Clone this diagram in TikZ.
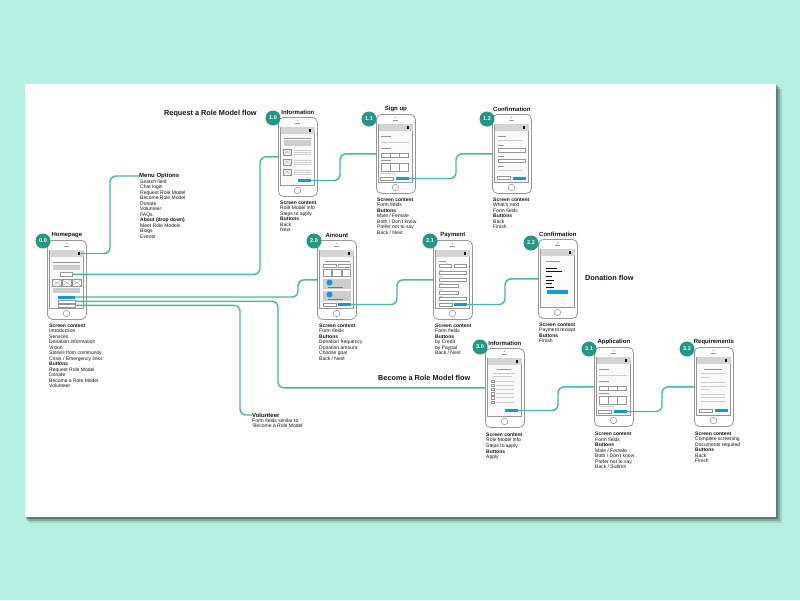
\documentclass[tikz,border=0pt]{standalone}
\usepackage{fontspec}
\setmainfont{Liberation Sans}
\usetikzlibrary{positioning}
\definecolor{mint}{RGB}{180,240,226}
\definecolor{badgeteal}{RGB}{36,150,132}
\definecolor{linkteal}{RGB}{70,185,165}
\definecolor{btnblue}{RGB}{22,152,214}
\definecolor{phonegray}{RGB}{150,150,150}
\definecolor{boxgray}{RGB}{150,150,150}
\definecolor{headgray}{RGB}{212,212,212}
\definecolor{bargray}{RGB}{150,150,150}
\definecolor{palegray}{RGB}{205,205,205}
\definecolor{screenfill}{RGB}{249,249,249}
\definecolor{ink}{RGB}{20,20,20}

\begin{document}
\begin{tikzpicture}[x=1pt,y=-1pt,
  phone/.style={draw=phonegray,line width=0.8pt,fill=white,rounded corners=5pt,
                minimum width=39pt,minimum height=79pt,inner sep=0pt},
  badge/.style={circle,fill=badgeteal,text=white,font=\bfseries\fontsize{5.5}{5.5}\selectfont,
                minimum size=15pt,inner sep=0pt},
  title/.style={font=\bfseries\fontsize{6}{6}\selectfont,text=ink,inner sep=1pt},
  flow/.style={font=\bfseries\fontsize{7.3}{7.3}\selectfont,text=ink,inner sep=0pt,anchor=west},
  notes/.style={font=\fontsize{5}{5.5}\selectfont,text=ink,align=left,inner sep=0pt,anchor=north west},
  link/.style={draw=linkteal,line width=1.4pt,rounded corners=6pt},
  bluebtn/.style={fill=btnblue,minimum width=13pt,minimum height=3pt,inner sep=0pt},
  whitebtn/.style={draw=boxgray,line width=0.4pt,fill=white,minimum width=13pt,minimum height=3pt,inner sep=0pt},
  bar/.style={fill=bargray},
  pale/.style={fill=palegray},
  box/.style={draw=boxgray,line width=0.4pt,fill=white},
  pics/handset/.style={code={
    \draw[boxgray,line width=0.5pt,fill=screenfill] (2.5,10) rectangle (36.5,68);
    \fill[headgray] (2.5,10) rectangle (36.5,17);
    \fill[ink] (31,12.3) rectangle (33.4,14.7);
    \fill[phonegray] (19.5,3.5) circle (0.7);
    \draw[phonegray,line width=0.5pt] (17,6.5) -- (22,6.5);
    \draw[phonegray,line width=0.6pt] (19.5,73.5) circle (3.2);
  }}]
  \useasboundingbox (0,0) rectangle (800,600);
  \fill[mint] (0,0) rectangle (800,600);
  \fill[black,opacity=0.12] (29,89) rectangle (782,523);
  \fill[black,opacity=0.2] (27,87) rectangle (780,521);
  \fill[black,opacity=0.25] (26,85) rectangle (778,519);
  \fill[white] (25,84) rectangle (776,517);

  \node[flow] at (164,114) {Request a Role Model flow};
  \node[flow] at (585,278) {Donation flow};
  \node[flow] at (378,378) {Become a Role Model flow};

  % homepage
  \node[phone,anchor=north west] (home) at (47,240) {};
  \pic at (home.north west) {handset};
  \begin{scope}[shift={(home.north west)}]
    \node[inner sep=0pt,minimum size=2.4pt] (homemenu) at (32.2,13.5) {};
    \fill[bar] (6,21.5) rectangle (33,23);
    \fill[pale] (6,24.5) rectangle (33,30);
    \node[box,minimum width=12pt,minimum height=3.3pt,inner sep=0pt] (homesearch) at (19.5,34.3) {};
    \foreach \x in {5,15,25} {
      \draw[box] (\x,39.5) rectangle +(9.5,6.5);
      \draw[boxgray,line width=0.3pt] (\x,39.5) -- +(9.5,6.5) (\x,46) -- +(9.5,-6.5);
    }
    \fill[pale] (6,48) rectangle (33,53);
    \node[bluebtn,minimum width=17pt] (homedonate) at (19.5,57) {};
    \node[whitebtn,minimum width=17pt] (homebecome) at (19.5,61.3) {};
    \node[whitebtn,minimum width=17pt] (homevolunteer) at (19.5,65.3) {};
  \end{scope}
  \node[badge] at ([shift={(-4,1)}]home.north west) {0.0};
  \node[title,above=1pt of home] {Homepage};
  \node[notes] at ([shift={(2,4)}]home.south west)
    {\textbf{Screen content}\\Introduction\\Services\\Donation information\\Vision\\
     Stories from community\\Crisis / Emergency links\\\textbf{Buttons}\\
     Request Role Model\\Donate\\Become a Role Model\\Volunteer};

  \node[title,anchor=west,inner sep=0pt] (menuhead) at (139,176) {Menu Options};
  \node[notes] (menulist) at (140,179.3)
    {Search field\\Chat login\\Request Role Model\\Become Role Model\\Donate\\Volunteer\\FAQs\\
     \textbf{About (drop down)}\\Meet Role Models\\Blogs\\Events};

  \node[title,anchor=west,inner sep=0pt] (volhead) at (252,415) {Volunteer};
  \node[notes] at (252,418.5) {Form fields similar to\\`Become a Role Model'};

  % request a role model
  \node[phone,anchor=north west] (info) at (278,117) {};
  \pic at (info.north west) {handset};
  \begin{scope}[shift={(info.north west)}]
    \fill[bar] (5.5,20.5) rectangle (32.5,21.8);
    \fill[pale] (5.5,23) rectangle (32.5,28.5);
    \foreach \y in {32,42,52} {
      \draw[box] (5,\y) rectangle +(8.5,6);
      \draw[boxgray,line width=0.3pt] (5,\y) -- +(8.5,6) (5,\y+6) -- +(8.5,-6);
      \foreach \d in {0.6,2.6,4.6} \fill[pale] (16,\y+\d) rectangle +(17,0.9);
    }
    \node[bluebtn] (infonext) at (26,63.5) {};
  \end{scope}
  \node[badge] at ([shift={(-5,1)}]info.north west) {1.0};
  \node[title,above=1pt of info] {Information};
  \node[notes] at ([shift={(2,4)}]info.south west)
    {\textbf{Screen content}\\Role Model info\\Steps to apply\\\textbf{Buttons}\\Back\\Next};

  \node[phone,anchor=north west] (signup) at (376,114) {};
  \pic at (signup.north west) {handset};
  \begin{scope}[shift={(signup.north west)}]
    \fill[bar] (5,21.5) rectangle (15,22.7);
    \fill[pale] (5,27.5) rectangle (33,28.7);
    \fill[bar] (5,33.5) rectangle (15,34.7);
    \foreach \x in {5,14.3,23.6} \draw[box] (\x,39.5) rectangle +(8.7,3.5);
    \fill[bar] (5,46) rectangle (15,47.2);
    \foreach \x in {5,14.3,23.6} \draw[box] (\x,49) rectangle +(8.7,8);
    \fill[pale] (5,59) rectangle (20,60);
    \node[whitebtn] at (11,64.5) {};
    \node[bluebtn] (signupnext) at (26,64.5) {};
  \end{scope}
  \node[badge] at ([shift={(-7,5)}]signup.north west) {1.1};
  \node[title,above=1pt of signup] {Sign up};
  \node[notes] at ([shift={(1,4)}]signup.south west)
    {\textbf{Screen content}\\Form fields\\\textbf{Buttons}\\Male / Female\\Both / Don't know\\
     Prefer not to say\\Back / Next};

  \node[phone,anchor=north west] (confirm) at (492,114) {};
  \pic at (confirm.north west) {handset};
  \begin{scope}[shift={(confirm.north west)}]
    \fill[bar] (6,21.5) rectangle (14,22.7);
    \fill[pale] (6,25.5) rectangle (30,26.7);
    \fill[bar] (6,31) rectangle (12,32.2);
    \draw[box] (6,34.5) rectangle (33,38);
    \fill[bar] (6,41.5) rectangle (12,42.7);
    \draw[box] (6,45) rectangle (33,48.5);
    \fill[bar] (6,52) rectangle (12,53.2);
    \fill[pale] (6,56) rectangle (30,57.2);
    \node[whitebtn] at (12,64) {};
    \node[bluebtn] at (27,64) {};
  \end{scope}
  \node[badge] at ([shift={(-5,5)}]confirm.north west) {1.2};
  \node[title,above=1pt of confirm] {Confirmation};
  \node[notes] at ([shift={(1,4)}]confirm.south west)
    {\textbf{Screen content}\\What's next\\Form fields\\\textbf{Buttons}\\Back\\Finish};

  % donation
  \node[phone,anchor=north west] (amount) at (317,240) {};
  \pic at (amount.north west) {handset};
  \begin{scope}[shift={(amount.north west)}]
    \fill[bar] (8,21) rectangle (33,22.2);
    \draw[box] (6,24.5) rectangle (19.5,27.5);
    \draw[box] (21.5,24.5) rectangle (33.5,27.5);
    \foreach \x in {6,15.5,25} \draw[box] (\x,29) rectangle +(8.5,7);
    \fill[pale] (6,38.5) rectangle (33.5,48.5);
    \fill[btnblue] (12.5,42.5) circle (3);
    \fill[btnblue] (11,46.5) rectangle (26,47.2);
    \fill[pale] (6,50.5) rectangle (33.5,61);
    \fill[btnblue] (12.5,54.5) circle (3);
    \fill[btnblue] (11,58.7) rectangle (26,59.4);
    \node[whitebtn] at (13,64.5) {};
    \node[bluebtn] (amountnext) at (27.5,64.5) {};
  \end{scope}
  \node[badge] at ([shift={(-3,1)}]amount.north west) {2.0};
  \node[title,above=1pt of amount] {Amount};
  \node[notes] at ([shift={(2,4)}]amount.south west)
    {\textbf{Screen content}\\Form fields\\\textbf{Buttons}\\Donation frequency\\
     Donation amount\\Choose goal\\Back / Next};

  \node[phone,anchor=north west] (payment) at (433,240) {};
  \pic at (payment.north west) {handset};
  \begin{scope}[shift={(payment.north west)}]
    \fill[bar] (6,20.5) rectangle (12.5,21.7);
    \draw[box] (6,24) rectangle (18.5,27);
    \draw[box] (21,24) rectangle (33.5,27);
    \foreach \y/\w in {31.5/27.5,38/27.5,44.5/19,51/19,57.5/27.5} {
      \fill[pale] (6,\y-1.6) rectangle +(4,0.8);
      \draw[box] (6,\y) rectangle +(\w,3);
    }
    \node[whitebtn] at (12.5,64.5) {};
    \node[bluebtn] (paymentnext) at (27,64.5) {};
  \end{scope}
  \node[badge] at ([shift={(-3,1)}]payment.north west) {2.1};
  \node[title,above=1pt of payment] {Payment};
  \node[notes] at ([shift={(2,4)}]payment.south west)
    {\textbf{Screen content}\\Form fields\\\textbf{Buttons}\\by Credit\\by Paypal\\Back / Next};

  \node[phone,anchor=north west] (receipt) at (538,239) {};
  \pic at (receipt.north west) {handset};
  \begin{scope}[shift={(receipt.north west)}]
    \fill[bar] (7.5,22) rectangle (22,23.2);
    \fill[ink] (7.5,28.5) rectangle (19,29.8);
    \fill[ink] (7.5,32) rectangle (23.5,33.3);
    \foreach \y/\w in {37/6,40.5/7.5,44/5.5,47.5/7.5} \fill[ink] (8,\y) rectangle +(\w,1.3);
    \fill[btnblue] (9,51) rectangle (30,54.5);
  \end{scope}
  \node[badge] at ([shift={(-7,4)}]receipt.north west) {2.2};
  \node[title,above=1pt of receipt] {Confirmation};
  \node[notes] at ([shift={(1,4)}]receipt.south west)
    {\textbf{Screen content}\\Payment reciept\\\textbf{Buttons}\\Finish};

  % become a role model
  \node[phone,anchor=north west] (apply) at (485,348) {};
  \pic at (apply.north west) {handset};
  \begin{scope}[shift={(apply.north west)}]
    \fill[bar] (12,21) rectangle (26,22.2);
    \fill[pale] (8,24.5) rectangle (30,25.5);
    \fill[pale] (8,27.5) rectangle (27,28.5);
    \foreach \y in {33,37.2,41.4,45.6,49.8,54} {
      \draw[boxgray,line width=0.4pt] (6.3,\y-1.2) rectangle +(2.4,2.4);
      \fill[pale] (11,\y-0.5) rectangle (29,\y+0.5);
    }
    \node[bluebtn] (applynext) at (26,62.5) {};
  \end{scope}
  \node[badge] at ([shift={(-5,-1)}]apply.north west) {3.0};
  \node[title,above=1pt of apply] {Information};
  \node[notes] at ([shift={(1,5)}]apply.south west)
    {\textbf{Screen content}\\Role Model info\\Steps to apply\\\textbf{Buttons}\\Apply};

  \node[phone,anchor=north west] (application) at (594,347) {};
  \pic at (application.north west) {handset};
  \begin{scope}[shift={(application.north west)}]
    \fill[bar] (5,21.5) rectangle (15,22.7);
    \fill[pale] (5,27.5) rectangle (33,28.7);
    \fill[bar] (5,33.5) rectangle (15,34.7);
    \foreach \x in {5,14.3,23.6} \draw[box] (\x,39.5) rectangle +(8.7,3.5);
    \fill[bar] (5,46) rectangle (15,47.2);
    \foreach \x in {5,14.3,23.6} \draw[box] (\x,49) rectangle +(8.7,8);
    \fill[pale] (5,59) rectangle (20,60);
    \node[whitebtn] at (11,64.5) {};
    \node[bluebtn] (applicationsubmit) at (26,64.5) {};
  \end{scope}
  \node[badge] at ([shift={(-5,2)}]application.north west) {3.1};
  \node[title,above=1pt of application] {Application};
  \node[notes] at ([shift={(1,5)}]application.south west)
    {\textbf{Screen content}\\Form fields\\\textbf{Buttons}\\Male / Female\\Both / Don't know\\
     Prefer not to say\\Back / Submit};

  \node[phone,anchor=north west] (require) at (694,347) {};
  \pic at (require.north west) {handset};
  \begin{scope}[shift={(require.north west)}]
    \fill[bar] (10,21.5) rectangle (28,22.7);
    \foreach \y/\w in {26/24,29.5/8,35/24,38.5/24,42/8,46.5/24,50/24,53.5/24} \fill[pale] (7,\y) rectangle +(\w,1);
    \node[whitebtn] at (11.5,63.5) {};
    \node[bluebtn] at (27,63.5) {};
  \end{scope}
  \node[badge] at ([shift={(-7,2)}]require.north west) {3.2};
  \node[title,above=1pt of require] {Requirements};
  \node[notes] at ([shift={(1,5)}]require.south west)
    {\textbf{Screen content}\\Complete screening\\Documents required\\\textbf{Buttons}\\Back\\Finish};

  \draw[link] (homemenu.east) -| ([xshift=-29pt]menuhead.west) -- (menuhead.west);
  \draw[link] (homesearch.east) -| ([xshift=-18pt]info.west) -- (info.west);
  \draw[link] (homedonate.east) -| ([xshift=-19pt]amount.west) -- (amount.west);
  \draw[link] (homebecome.east) -| ([xshift=-207pt]apply.west) -- (apply.west);
  \draw[link] (homevolunteer.east) -| ([xshift=-12pt]volhead.west) -- (volhead.west);
  \draw[link] (infonext.east) -| ([xshift=-36pt]signup.west) -- (signup.west);
  \draw[link] (signupnext.east) -| ([xshift=-36pt]confirm.west) -- (confirm.west);
  \draw[link] (amountnext.east) -| ([xshift=-36pt]payment.west) -- (payment.west);
  \draw[link] (paymentnext.east) -| ([xshift=-33pt]receipt.west) -- (receipt.west);
  \draw[link] (applynext.east) -| ([xshift=-36pt]application.west) -- (application.west);
  \draw[link] (applicationsubmit.east) -| ([xshift=-32pt]require.west) -- (require.west);
\end{tikzpicture}
\end{document}
